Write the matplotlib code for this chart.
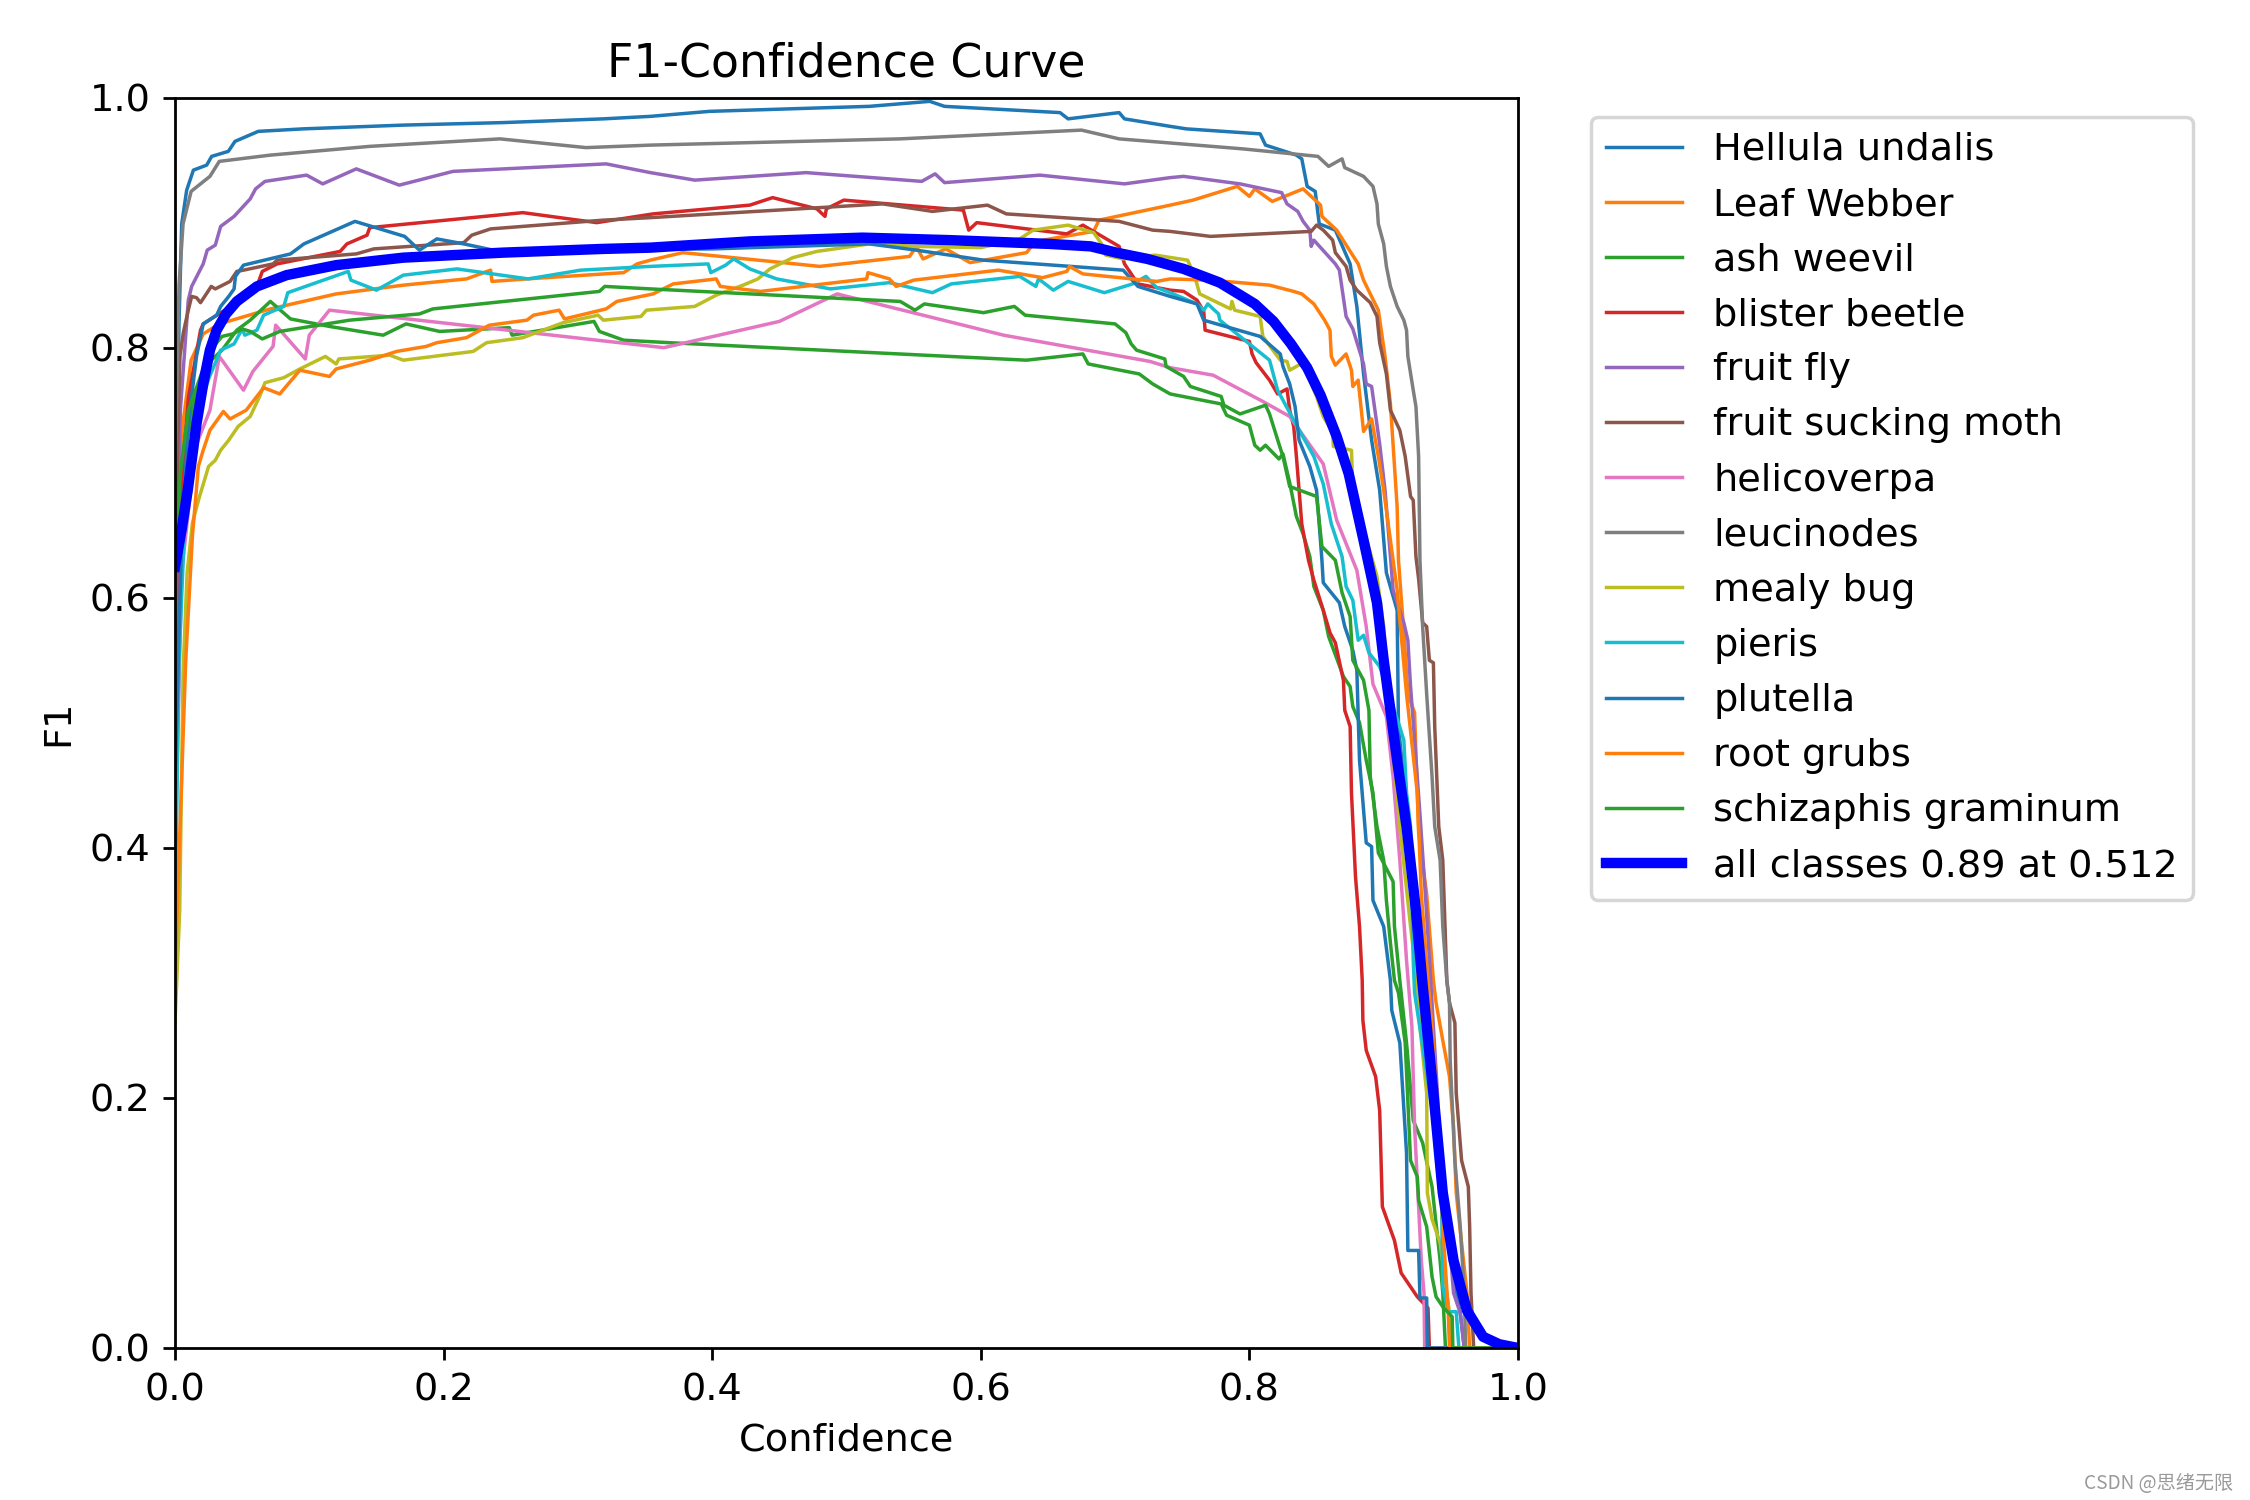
import matplotlib
matplotlib.use("Agg")
import matplotlib.pyplot as plt

plt.rcParams["font.size"] = 11

# ---------------- data (confidence, F1) ----------------
class_names = ["Hellula undalis", "Leaf Webber", "ash weevil", "blister beetle", "fruit fly",
               "fruit sucking moth", "helicoverpa", "leucinodes", "mealy bug", "pieris",
               "plutella", "root grubs", "schizaphis graminum"]

hellula = [(0.0, 0.62), (0.003, 0.82), (0.005, 0.899), (0.0087, 0.926), (0.0137, 0.942), (0.0236, 0.946),
           (0.0273, 0.953), (0.0397, 0.957), (0.0447, 0.965), (0.062, 0.973), (0.0955, 0.975), (0.17, 0.978),
           (0.244, 0.98), (0.319, 0.983), (0.354, 0.985), (0.398, 0.989), (0.517, 0.993), (0.562, 0.997),
           (0.573, 0.993), (0.659, 0.988), (0.665, 0.983), (0.703, 0.988), (0.707, 0.983), (0.741, 0.977),
           (0.753, 0.975), (0.808, 0.971), (0.812, 0.962), (0.835, 0.954), (0.839, 0.951), (0.843, 0.929),
           (0.849, 0.925), (0.852, 0.899), (0.864, 0.894), (0.875, 0.867), (0.88, 0.833), (0.885, 0.779),
           (0.891, 0.726), (0.897, 0.686), (0.902, 0.62), (0.91, 0.59), (0.911, 0.497), (0.918, 0.422),
           (0.924, 0.363), (0.929, 0.294), (0.934, 0.23), (0.942, 0.15), (0.95, 0.07), (0.957, 0.028),
           (0.96, 0.0), (1.0, 0.0)]

leaf_webber = [(0.0, 0.45), (0.006, 0.74), (0.012, 0.79), (0.021, 0.811), (0.033, 0.819), (0.071, 0.831),
               (0.12, 0.843), (0.17, 0.85), (0.217, 0.855), (0.235, 0.862), (0.236, 0.853), (0.262, 0.855),
               (0.334, 0.86), (0.344, 0.867), (0.354, 0.87), (0.378, 0.876), (0.453, 0.868), (0.48, 0.865),
               (0.547, 0.873), (0.552, 0.881), (0.557, 0.871), (0.574, 0.879), (0.592, 0.868), (0.634, 0.876),
               (0.641, 0.885), (0.684, 0.893), (0.688, 0.902), (0.741, 0.914), (0.758, 0.918), (0.791, 0.929),
               (0.8, 0.921), (0.804, 0.927), (0.817, 0.917), (0.84, 0.927), (0.853, 0.914), (0.854, 0.905),
               (0.865, 0.894), (0.881, 0.867), (0.885, 0.854), (0.89, 0.843), (0.896, 0.83), (0.901, 0.793),
               (0.905, 0.755), (0.91, 0.673), (0.911, 0.63), (0.915, 0.572), (0.918, 0.523), (0.923, 0.508),
               (0.926, 0.412), (0.932, 0.363), (0.937, 0.294), (0.939, 0.276), (0.944, 0.246), (0.949, 0.217),
               (0.952, 0.177), (0.954, 0.124), (0.958, 0.084), (0.962, 0.044), (0.964, 0.0), (1.0, 0.0)]

ash_weevil = [(0.0, 0.47), (0.003, 0.62), (0.008, 0.72), (0.015, 0.76), (0.022, 0.785), (0.035, 0.798),
              (0.046, 0.814), (0.056, 0.822), (0.071, 0.837), (0.086, 0.823), (0.115, 0.817), (0.155, 0.81),
              (0.172, 0.819), (0.197, 0.813), (0.249, 0.816), (0.251, 0.81), (0.312, 0.821), (0.316, 0.813),
              (0.334, 0.806), (0.368, 0.804), (0.634, 0.79), (0.676, 0.795), (0.68, 0.787), (0.718, 0.779),
              (0.728, 0.771), (0.741, 0.763), (0.779, 0.755), (0.783, 0.746), (0.8, 0.738), (0.804, 0.722),
              (0.808, 0.718), (0.812, 0.722), (0.822, 0.711), (0.825, 0.715), (0.83, 0.692), (0.835, 0.665),
              (0.84, 0.651), (0.845, 0.633), (0.848, 0.609), (0.855, 0.59), (0.859, 0.569), (0.87, 0.537),
              (0.875, 0.529), (0.877, 0.513), (0.882, 0.5), (0.887, 0.47), (0.892, 0.444), (0.896, 0.396),
              (0.907, 0.373), (0.908, 0.337), (0.912, 0.294), (0.917, 0.244), (0.922, 0.182), (0.929, 0.164),
              (0.936, 0.129), (0.942, 0.07), (0.944, 0.044), (0.946, 0.0), (1.0, 0.0)]

blister_beetle = [(0.0, 0.5), (0.004, 0.68), (0.01, 0.76), (0.019, 0.814), (0.021, 0.819), (0.04, 0.832),
                  (0.061, 0.849), (0.065, 0.861), (0.076, 0.867), (0.123, 0.877), (0.128, 0.883), (0.143, 0.89),
                  (0.145, 0.896), (0.259, 0.908), (0.314, 0.9), (0.356, 0.907), (0.428, 0.914), (0.445, 0.92),
                  (0.478, 0.911), (0.484, 0.905), (0.485, 0.911), (0.498, 0.918), (0.587, 0.91), (0.591, 0.894),
                  (0.597, 0.9), (0.664, 0.891), (0.676, 0.898), (0.703, 0.881), (0.707, 0.867), (0.717, 0.851),
                  (0.741, 0.846), (0.751, 0.845), (0.761, 0.838), (0.766, 0.829), (0.767, 0.814), (0.8, 0.805),
                  (0.802, 0.795), (0.805, 0.788), (0.815, 0.774), (0.821, 0.763), (0.828, 0.767), (0.83, 0.75),
                  (0.833, 0.737), (0.835, 0.713), (0.839, 0.659), (0.844, 0.63), (0.848, 0.614), (0.855, 0.59),
                  (0.86, 0.572), (0.864, 0.564), (0.87, 0.534), (0.871, 0.51), (0.875, 0.497), (0.876, 0.444),
                  (0.879, 0.377), (0.882, 0.337), (0.884, 0.294), (0.8845, 0.262), (0.887, 0.238), (0.894, 0.217),
                  (0.897, 0.19), (0.899, 0.113), (0.908, 0.086), (0.913, 0.06), (0.925, 0.041), (0.933, 0.032),
                  (0.934, 0.0), (1.0, 0.0)]

fruit_fly = [(0.0, 0.55), (0.004, 0.75), (0.0099, 0.838), (0.0124, 0.849), (0.021, 0.867), (0.024, 0.878),
             (0.03, 0.882), (0.034, 0.897), (0.044, 0.905), (0.056, 0.919), (0.06, 0.927), (0.067, 0.933),
             (0.098, 0.938), (0.11, 0.931), (0.135, 0.943), (0.167, 0.93), (0.207, 0.941), (0.321, 0.947),
             (0.354, 0.94), (0.387, 0.934), (0.47, 0.94), (0.556, 0.933), (0.566, 0.939), (0.573, 0.932),
             (0.644, 0.938), (0.707, 0.931), (0.741, 0.936), (0.751, 0.937), (0.793, 0.931), (0.824, 0.924),
             (0.828, 0.915), (0.836, 0.909), (0.84, 0.901), (0.845, 0.894), (0.846, 0.881), (0.848, 0.886),
             (0.864, 0.867), (0.867, 0.862), (0.872, 0.825), (0.877, 0.815), (0.885, 0.787), (0.887, 0.771),
             (0.891, 0.769), (0.897, 0.723), (0.901, 0.686), (0.905, 0.633), (0.907, 0.606), (0.915, 0.58),
             (0.918, 0.566), (0.92, 0.529), (0.923, 0.486), (0.927, 0.427), (0.931, 0.363), (0.935, 0.294),
             (0.937, 0.257), (0.94, 0.204), (0.942, 0.15), (0.949, 0.084), (0.952, 0.044), (0.957, 0.028),
             (0.96, 0.0), (1.0, 0.0)]

fruit_sucking_moth = [(0.0, 0.55), (0.002, 0.72), (0.0037, 0.793), (0.0062, 0.812), (0.0099, 0.83),
                      (0.0124, 0.841), (0.016, 0.84), (0.019, 0.836), (0.027, 0.849), (0.03, 0.847),
                      (0.041, 0.853), (0.046, 0.861), (0.051, 0.862), (0.073, 0.867), (0.076, 0.87),
                      (0.135, 0.875), (0.148, 0.879), (0.215, 0.884), (0.221, 0.89), (0.235, 0.895),
                      (0.319, 0.902), (0.354, 0.904), (0.527, 0.915), (0.564, 0.909), (0.605, 0.914),
                      (0.619, 0.907), (0.703, 0.901), (0.728, 0.894), (0.741, 0.893), (0.771, 0.889),
                      (0.846, 0.893), (0.85, 0.898), (0.855, 0.894), (0.862, 0.886), (0.864, 0.876),
                      (0.872, 0.865), (0.875, 0.854), (0.88, 0.846), (0.89, 0.836), (0.895, 0.825),
                      (0.897, 0.804), (0.902, 0.779), (0.905, 0.75), (0.912, 0.734), (0.916, 0.713),
                      (0.92, 0.681), (0.922, 0.678), (0.924, 0.633), (0.926, 0.615), (0.929, 0.58),
                      (0.932, 0.577), (0.934, 0.55), (0.937, 0.548), (0.938, 0.497), (0.941, 0.417),
                      (0.944, 0.39), (0.947, 0.294), (0.949, 0.276), (0.953, 0.26), (0.954, 0.204),
                      (0.958, 0.15), (0.963, 0.129), (0.964, 0.097), (0.965, 0.044), (0.967, 0.0), (1.0, 0.0)]

helicoverpa = [(0.0, 0.4), (0.005, 0.62), (0.015, 0.72), (0.026, 0.75), (0.033, 0.793), (0.051, 0.766),
               (0.058, 0.781), (0.073, 0.801), (0.075, 0.818), (0.097, 0.791), (0.1, 0.81), (0.115, 0.83),
               (0.364, 0.8), (0.45, 0.821), (0.493, 0.843), (0.617, 0.81), (0.726, 0.789), (0.741, 0.784),
               (0.773, 0.778), (0.81, 0.757), (0.83, 0.745), (0.855, 0.707), (0.865, 0.662), (0.88, 0.622),
               (0.887, 0.577), (0.892, 0.531), (0.902, 0.505), (0.907, 0.457), (0.912, 0.39), (0.917, 0.31),
               (0.921, 0.257), (0.923, 0.177), (0.928, 0.07), (0.93, 0.044), (0.9305, 0.0), (1.0, 0.0)]

leucinodes = [(0.0, 0.7), (0.003, 0.85), (0.006, 0.899), (0.012, 0.925), (0.026, 0.937), (0.033, 0.949),
              (0.071, 0.954), (0.145, 0.961), (0.242, 0.967), (0.306, 0.96), (0.354, 0.962), (0.54, 0.967),
              (0.675, 0.974), (0.703, 0.967), (0.726, 0.965), (0.795, 0.959), (0.851, 0.953), (0.859, 0.945),
              (0.869, 0.951), (0.871, 0.944), (0.885, 0.937), (0.892, 0.929), (0.895, 0.915), (0.896, 0.899),
              (0.9, 0.883), (0.902, 0.865), (0.905, 0.849), (0.91, 0.833), (0.915, 0.822), (0.917, 0.814),
              (0.918, 0.793), (0.922, 0.766), (0.924, 0.753), (0.926, 0.713), (0.927, 0.63), (0.929, 0.577),
              (0.932, 0.523), (0.936, 0.457), (0.938, 0.417), (0.942, 0.39), (0.944, 0.337), (0.947, 0.294),
              (0.949, 0.276), (0.9495, 0.23), (0.953, 0.15), (0.957, 0.097), (0.96, 0.044), (0.961, 0.0),
              (1.0, 0.0)]

mealy_bug = [(0.0, 0.26), (0.0035, 0.35), (0.006, 0.54), (0.009, 0.62), (0.013, 0.66), (0.018, 0.68),
             (0.025, 0.705), (0.03, 0.71), (0.034, 0.718), (0.04, 0.726), (0.047, 0.737), (0.056, 0.745),
             (0.063, 0.761), (0.067, 0.772), (0.081, 0.776), (0.093, 0.783), (0.112, 0.793), (0.12, 0.787),
             (0.122, 0.791), (0.16, 0.794), (0.17, 0.79), (0.222, 0.797), (0.232, 0.804), (0.259, 0.808),
             (0.289, 0.82), (0.315, 0.826), (0.319, 0.822), (0.347, 0.825), (0.351, 0.83), (0.387, 0.833),
             (0.403, 0.842), (0.423, 0.85), (0.434, 0.855), (0.443, 0.863), (0.46, 0.872), (0.478, 0.877),
             (0.517, 0.883), (0.552, 0.881), (0.6, 0.88), (0.629, 0.887), (0.639, 0.894), (0.665, 0.898),
             (0.684, 0.892), (0.69, 0.883), (0.693, 0.874), (0.706, 0.871), (0.73, 0.874), (0.754, 0.87),
             (0.759, 0.858), (0.763, 0.843), (0.786, 0.831), (0.787, 0.837), (0.789, 0.83), (0.808, 0.825),
             (0.81, 0.809), (0.823, 0.79), (0.828, 0.789), (0.83, 0.782), (0.84, 0.788), (0.848, 0.766),
             (0.85, 0.761), (0.855, 0.745), (0.862, 0.732), (0.8625, 0.721), (0.876, 0.718), (0.877, 0.686),
             (0.895, 0.617), (0.9, 0.577), (0.905, 0.497), (0.912, 0.417), (0.92, 0.337), (0.923, 0.31),
             (0.927, 0.257), (0.932, 0.204), (0.9325, 0.124), (0.936, 0.103), (0.942, 0.084), (0.947, 0.044),
             (0.949, 0.028), (0.951, 0.0), (1.0, 0.0)]

pieris = [(0.0, 0.34), (0.003, 0.55), (0.008, 0.68), (0.015, 0.74), (0.025, 0.775), (0.034, 0.798),
          (0.044, 0.803), (0.05, 0.815), (0.052, 0.81), (0.061, 0.814), (0.066, 0.826), (0.081, 0.833),
          (0.084, 0.844), (0.129, 0.861), (0.131, 0.854), (0.15, 0.846), (0.17, 0.858), (0.21, 0.863),
          (0.263, 0.855), (0.302, 0.862), (0.354, 0.865), (0.397, 0.867), (0.399, 0.86), (0.41, 0.866),
          (0.416, 0.871), (0.428, 0.863), (0.448, 0.855), (0.488, 0.847), (0.532, 0.852), (0.564, 0.844),
          (0.578, 0.851), (0.629, 0.857), (0.641, 0.849), (0.643, 0.855), (0.654, 0.846), (0.665, 0.853),
          (0.692, 0.844), (0.713, 0.851), (0.723, 0.857), (0.731, 0.848), (0.741, 0.844), (0.761, 0.835),
          (0.766, 0.83), (0.769, 0.835), (0.777, 0.827), (0.778, 0.822), (0.8, 0.803), (0.815, 0.79),
          (0.821, 0.766), (0.833, 0.742), (0.848, 0.713), (0.855, 0.691), (0.861, 0.659), (0.869, 0.633),
          (0.872, 0.609), (0.877, 0.598), (0.881, 0.566), (0.885, 0.57), (0.889, 0.556), (0.897, 0.545),
          (0.911, 0.5), (0.915, 0.486), (0.917, 0.444), (0.92, 0.417), (0.922, 0.31), (0.923, 0.284),
          (0.932, 0.22), (0.938, 0.177), (0.943, 0.124), (0.944, 0.049), (0.948, 0.029), (0.954, 0.029),
          (0.956, 0.0), (1.0, 0.0)]

plutella = [(0.0, 0.45), (0.005, 0.65), (0.01, 0.74), (0.016, 0.793), (0.021, 0.819), (0.031, 0.826),
            (0.034, 0.833), (0.04, 0.841), (0.044, 0.847), (0.045, 0.857), (0.051, 0.866), (0.086, 0.875),
            (0.096, 0.883), (0.134, 0.901), (0.171, 0.889), (0.182, 0.878), (0.195, 0.887), (0.215, 0.883),
            (0.237, 0.878), (0.4, 0.879), (0.517, 0.883), (0.552, 0.878), (0.602, 0.87), (0.706, 0.862),
            (0.717, 0.849), (0.741, 0.841), (0.761, 0.835), (0.766, 0.822), (0.808, 0.809), (0.823, 0.795),
            (0.825, 0.785), (0.83, 0.771), (0.834, 0.753), (0.837, 0.726), (0.845, 0.705), (0.85, 0.686),
            (0.852, 0.659), (0.854, 0.63), (0.855, 0.612), (0.867, 0.596), (0.871, 0.577), (0.877, 0.558),
            (0.88, 0.542), (0.882, 0.47), (0.887, 0.404), (0.891, 0.401), (0.892, 0.358), (0.9, 0.337),
            (0.905, 0.294), (0.906, 0.27), (0.912, 0.244), (0.917, 0.156), (0.918, 0.078), (0.926, 0.078),
            (0.927, 0.04), (0.932, 0.04), (0.9325, 0.0), (1.0, 0.0)]

root_grubs = [(0.0, 0.3), (0.008, 0.55), (0.013, 0.65), (0.0174, 0.705), (0.021, 0.718), (0.026, 0.734),
              (0.036, 0.749), (0.041, 0.743), (0.053, 0.75), (0.066, 0.768), (0.078, 0.763), (0.093, 0.782),
              (0.115, 0.777), (0.12, 0.783), (0.145, 0.79), (0.165, 0.797), (0.187, 0.801), (0.195, 0.804),
              (0.217, 0.808), (0.234, 0.818), (0.262, 0.822), (0.267, 0.826), (0.286, 0.83), (0.29, 0.823),
              (0.321, 0.831), (0.329, 0.837), (0.356, 0.843), (0.371, 0.851), (0.403, 0.855), (0.406, 0.849),
              (0.436, 0.845), (0.515, 0.855), (0.516, 0.86), (0.532, 0.855), (0.537, 0.849), (0.55, 0.854),
              (0.613, 0.862), (0.646, 0.856), (0.664, 0.861), (0.666, 0.865), (0.676, 0.859), (0.731, 0.853),
              (0.741, 0.855), (0.771, 0.854), (0.815, 0.85), (0.833, 0.845), (0.839, 0.843), (0.848, 0.835),
              (0.856, 0.822), (0.86, 0.814), (0.861, 0.793), (0.864, 0.786), (0.872, 0.795), (0.876, 0.782),
              (0.877, 0.769), (0.881, 0.774), (0.885, 0.733), (0.891, 0.743), (0.896, 0.713), (0.9, 0.686),
              (0.905, 0.646), (0.91, 0.606), (0.917, 0.523), (0.925, 0.444), (0.928, 0.363), (0.933, 0.294),
              (0.936, 0.257), (0.941, 0.177), (0.944, 0.097), (0.948, 0.03), (0.949, 0.0), (1.0, 0.0)]

schizaphis = [(0.0, 0.62), (0.004, 0.7), (0.01, 0.75), (0.02, 0.78), (0.028, 0.8), (0.035, 0.809),
              (0.043, 0.811), (0.05, 0.815), (0.056, 0.813), (0.065, 0.807), (0.078, 0.813), (0.13, 0.822),
              (0.182, 0.827), (0.192, 0.831), (0.316, 0.845), (0.32, 0.849), (0.354, 0.847), (0.54, 0.837),
              (0.551, 0.83), (0.558, 0.835), (0.602, 0.828), (0.625, 0.833), (0.633, 0.826), (0.7, 0.819),
              (0.708, 0.812), (0.712, 0.803), (0.716, 0.798), (0.737, 0.791), (0.738, 0.785), (0.751, 0.777),
              (0.756, 0.769), (0.779, 0.761), (0.781, 0.754), (0.793, 0.747), (0.812, 0.754), (0.815, 0.747),
              (0.822, 0.723), (0.825, 0.713), (0.83, 0.689), (0.85, 0.681), (0.854, 0.641), (0.864, 0.63),
              (0.869, 0.604), (0.875, 0.585), (0.877, 0.55), (0.885, 0.534), (0.889, 0.51), (0.89, 0.457),
              (0.895, 0.417), (0.9, 0.39), (0.902, 0.358), (0.905, 0.324), (0.908, 0.294), (0.911, 0.284),
              (0.916, 0.244), (0.92, 0.15), (0.925, 0.137), (0.926, 0.118), (0.932, 0.097), (0.936, 0.057),
              (0.939, 0.041), (0.944, 0.033), (0.951, 0.025), (0.9515, 0.0), (1.0, 0.0)]

all_classes = [(0.0, 0.625), (0.005, 0.655), (0.0095, 0.686), (0.016, 0.739), (0.021, 0.771), (0.026, 0.798),
               (0.031, 0.814), (0.038, 0.827), (0.046, 0.837), (0.061, 0.849), (0.083, 0.858), (0.12, 0.866),
               (0.17, 0.872), (0.244, 0.876), (0.319, 0.879), (0.354, 0.88), (0.428, 0.885), (0.512, 0.888),
               (0.577, 0.886), (0.651, 0.883), (0.682, 0.881), (0.701, 0.876), (0.724, 0.871), (0.751, 0.863),
               (0.778, 0.852), (0.804, 0.835), (0.818, 0.821), (0.831, 0.803), (0.843, 0.784), (0.853, 0.762),
               (0.865, 0.729), (0.874, 0.699), (0.885, 0.646), (0.895, 0.596), (0.9, 0.55),
               (0.91, 0.47), (0.917, 0.417), (0.924, 0.35), (0.929, 0.29), (0.937, 0.204), (0.944, 0.124),
               (0.952, 0.07), (0.962, 0.03), (0.974, 0.009), (0.986, 0.003), (1.0, 0.0)]

best_f1 = 0.89
best_conf = 0.512

class_series = [hellula, leaf_webber, ash_weevil, blister_beetle, fruit_fly, fruit_sucking_moth,
                helicoverpa, leucinodes, mealy_bug, pieris, plutella, root_grubs, schizaphis]

# ---------------- figure ----------------
fig = plt.figure(figsize=(9, 6), dpi=250)
ax = fig.add_axes([175 / 2250, 1 - 1348 / 1500, (1518 - 175) / 2250, (1348 - 97.6) / 1500])

for name, pts in zip(class_names, class_series):
    xs = [p[0] for p in pts]
    ys = [p[1] for p in pts]
    ax.plot(xs, ys, linewidth=1, label=name)

ax.plot([p[0] for p in all_classes], [p[1] for p in all_classes], linewidth=3, color="blue",
        label=f"all classes {best_f1:.2f} at {best_conf:.3f}")

ax.set_xlabel("Confidence")
ax.set_ylabel("F1")
ax.set_xlim(0, 1)
ax.set_ylim(0, 1)
ax.legend(bbox_to_anchor=(1.04, 1), loc="upper left")
ax.set_title("F1-Confidence Curve")

fig.text(2233 / 2250, 1 - 1489 / 1500, "CSDN @思绪无限", ha="right", va="baseline",
         fontsize=5.5, color="#9a9a9a", family=["Noto Sans CJK SC", "DejaVu Sans"])

fig.savefig("out.png", dpi=250)
